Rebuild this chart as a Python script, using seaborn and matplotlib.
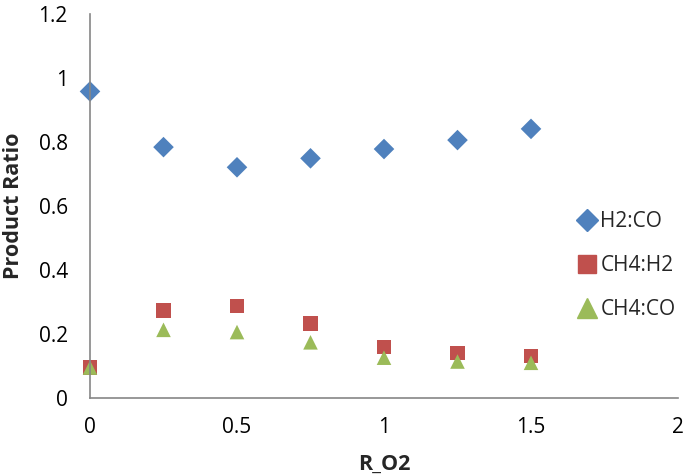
import numpy as np
import pandas as pd
import seaborn as sns
import matplotlib.pyplot as plt

# data
r_o2 = [0, 0.25, 0.5, 0.75, 1.0, 1.25, 1.5]
h2_co = [0.958, 0.784, 0.721, 0.749, 0.778, 0.806, 0.841]
ch4_h2 = [0.096, 0.273, 0.287, 0.232, 0.160, 0.141, 0.131]
ch4_co = [0.095, 0.213, 0.206, 0.174, 0.126, 0.114, 0.110]

series = ["H2:CO", "CH4:H2", "CH4:CO"]
colors = ["#4F81BD", "#C0504D", "#9BBB59"]
markers = ["D", "s", "^"]

df = pd.DataFrame({
    "R_O2": r_o2 * 3,
    "Product Ratio": h2_co + ch4_h2 + ch4_co,
    "series": np.repeat(series, len(r_o2)),
})

sns.set_style("white")
plt.rcParams["font.family"] = ["Open Sans", "DejaVu Sans"]

fig = plt.figure(figsize=(6.85, 4.76), dpi=100)
ax = fig.add_axes([90 / 685, 78 / 476, 588 / 685, 384 / 476])

sns.scatterplot(data=df, x="R_O2", y="Product Ratio", hue="series", style="series",
                palette=dict(zip(series, colors)), markers=dict(zip(series, markers)),
                s=150, edgecolor="none", ax=ax, legend=False)
# diamond looks smaller in mpl, so tune each series
for coll, sz in zip(ax.collections, [110, 150, 170]):
    coll.set_sizes([sz])
    coll.set_clip_on(False)

ax.set_xlim(0, 2)
ax.set_ylim(0, 1.2)
ax.set_xticks([0, 0.5, 1, 1.5, 2])
ax.set_xticklabels(["0", "0.5", "1", "1.5", "2"])
ax.set_yticks([0, 0.2, 0.4, 0.6, 0.8, 1, 1.2])
ax.set_yticklabels(["0", "0.2", "0.4", "0.6", "0.8", "1", "1.2"])
ax.tick_params(length=0, labelsize=15, colors="black")
ax.tick_params(axis="y", pad=16)
ax.tick_params(axis="x", pad=14)
for side in ["top", "right"]:
    ax.spines[side].set_visible(False)
for side in ["left", "bottom"]:
    ax.spines[side].set_color("#868686")
    ax.spines[side].set_linewidth(1.2)
ax.set_xlabel("R_O2", fontsize=15.5, fontweight="bold")
ax.set_ylabel("Product Ratio", fontsize=15.5, fontweight="bold")
ax.yaxis.set_label_coords(-0.112, 0.5)
ax.xaxis.set_label_coords(0.5, -0.145)

handles = [plt.Line2D([], [], ls="none", marker=m, color=c, markersize=ms)
           for m, c, ms in zip(markers, colors, [11, 13, 14])]
fig.legend(handles, series, loc="upper left", bbox_to_anchor=(566 / 685, 1 - 203 / 476),
           frameon=False, fontsize=15, handletextpad=0.05, labelspacing=1.1,
           handlelength=1.2, borderaxespad=0)

fig.savefig("out.png", dpi=100)
